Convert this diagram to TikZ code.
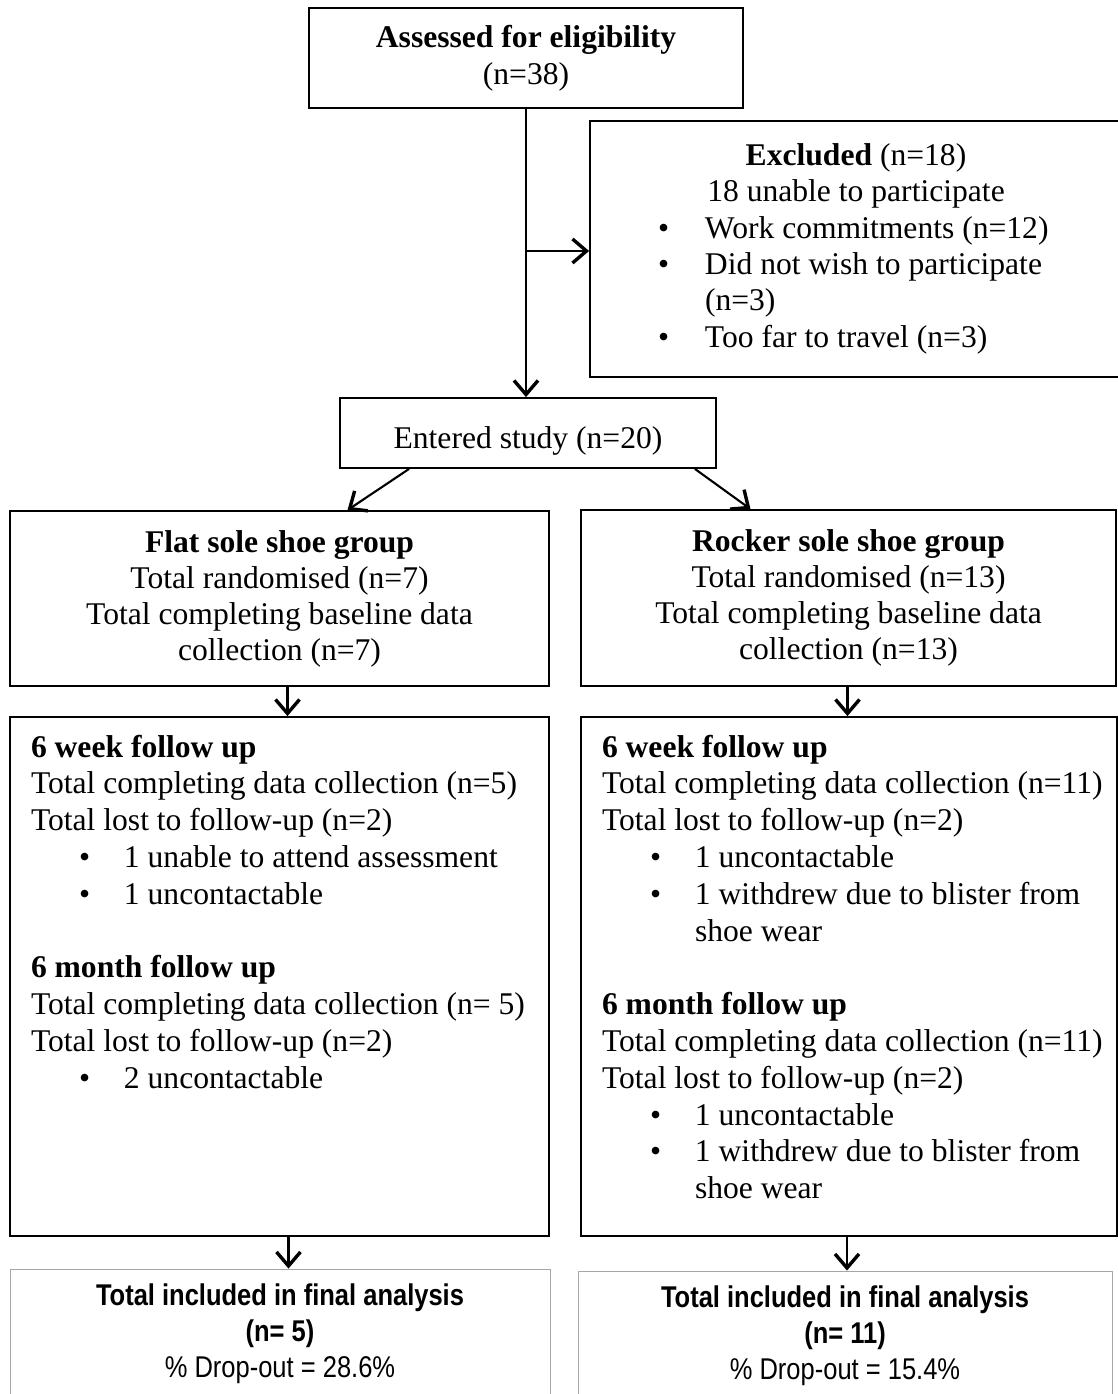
\documentclass[tikz,border=0pt]{standalone}
\usepackage{fontspec}
\setmainfont{Liberation Serif}
\setsansfont{Liberation Sans}
\newfontfamily\endfont[FakeStretch=0.85]{Liberation Sans}
\usetikzlibrary{arrows.meta}
\newcommand{\bul}[1]{\makebox[47pt][l]{\textbullet}#1}
\newcommand{\fuitem}[1]{\hspace*{48pt}\makebox[45pt][l]{\textbullet}#1}
\newcommand{\fubody}[2]{\parbox[c][519pt][t]{#1}{\raggedright\leftskip=21pt\rule{0pt}{40pt}#2}}
\tikzset{
  flownode/.style = {draw=black, line width=1.8pt, align=center, inner sep=0pt},
  fc_fu/.style = {draw=black, line width=1.8pt, inner sep=0pt},
  fc_end/.style = {draw=gray!70, line width=0.9pt, align=center, inner sep=0pt,
    minimum height=130pt, font=\fontsize{30}{36}\selectfont\endfont}
}
\begin{document}
\begin{tikzpicture}[->, >={Straight Barb[length=14pt,width=24pt,line width=3.4pt]},
  x=1pt, y=-1pt, line width=2.1pt, font=\fontsize{31.6}{36.8}\selectfont]
\useasboundingbox (0,0) rectangle (1118,1394);
\node [flownode, minimum width=434pt, minimum height=100pt] (assess) at (526,58)
  {\textbf{Assessed for eligibility}\\(n=38)};
\node [flownode, align=flush left, text width=396pt, minimum width=532pt,
  minimum height=256pt] (excl) at (856,249)
  {\makebox[396pt]{\textbf{Excluded} (n=18)}\\[-1pt]
   \makebox[396pt]{18 unable to participate}\\
   \bul{Work commitments (n=12)}\\
   \bul{Did not wish to participate}\\[-1pt]
   \hspace*{47pt}(n=3)\\
   \bul{Too far to travel (n=3)}};
\node [flownode, minimum width=376pt, text height=50pt, text depth=20pt] (entered)
  at (528,433) {Entered study (n=20)};
\node [flownode, minimum width=539pt, minimum height=175pt,
  font=\fontsize{31.6}{36}\selectfont] (flat) at (279.5,598.5)
  {\textbf{Flat sole shoe group}\\Total randomised (n=7)\\
   Total completing baseline data\\collection (n=7)};
\node [flownode, minimum width=535pt, minimum height=176pt,
  font=\fontsize{31.6}{36}\selectfont] (rocker) at (848.5,598)
  {\textbf{Rocker sole shoe group}\\Total randomised (n=13)\\
   Total completing baseline data\\collection (n=13)};
\node [fc_fu] (flat_fu) at (279.5,976.5)
  {\fubody{539pt}{\textbf{6 week follow up}\\
   Total completing data collection (n=5)\\
   Total lost to follow-up (n=2)\\
   \fuitem{1 unable to attend assessment}\\
   \fuitem{1 uncontactable}\\[36.8pt]
   \textbf{6 month follow up}\\
   Total completing data collection (n= 5)\\
   Total lost to follow-up (n=2)\\
   \fuitem{2 uncontactable}}};
\node [fc_fu] (rock_fu) at (849,976.5)
  {\fubody{536pt}{\textbf{6 week follow up}\\
   Total completing data collection (n=11)\\
   Total lost to follow-up (n=2)\\
   \fuitem{1 uncontactable}\\
   \fuitem{1 withdrew due to blister from}\\
   \hspace*{93pt}shoe wear\\[36.8pt]
   \textbf{6 month follow up}\\
   Total completing data collection (n=11)\\
   Total lost to follow-up (n=2)\\
   \fuitem{1 uncontactable}\\
   \fuitem{1 withdrew due to blister from}\\
   \hspace*{93pt}shoe wear}};
\node [fc_end, minimum width=540pt] (flat_end) at (280,1334)
  {\textbf{Total included in final analysis}\\\textbf{(n= 5)}\\\% Drop-out = 28.6\%};
\node [fc_end, minimum width=534pt] (rock_end) at (845,1336)
  {\textbf{Total included in final analysis}\\\textbf{(n= 11)}\\\% Drop-out = 15.4\%};

\draw (assess.south) -- (assess.south |- entered.north);
\draw ([yshift=-2pt]assess.south |- excl.west) -- ([yshift=-2pt]excl.west);
\draw ([xshift=70pt]entered.south west) -- ([xshift=68pt]flat.north);
\draw ([xshift=-22pt]entered.south east) -- ([xshift=-98pt]rocker.north);
\draw ([xshift=8pt]flat.south) -- ([xshift=8pt]flat_fu.north);
\draw ([xshift=-1pt]rocker.south) -- ([xshift=-1pt]rocker.south |- rock_fu.north);
\draw ([xshift=9pt]flat_fu.south) -- ([xshift=9pt]flat_fu.south |- flat_end.north);
\draw ([xshift=-2pt]rock_fu.south) -- ([xshift=-2pt]rock_fu.south |- rock_end.north);
\end{tikzpicture}
\end{document}
